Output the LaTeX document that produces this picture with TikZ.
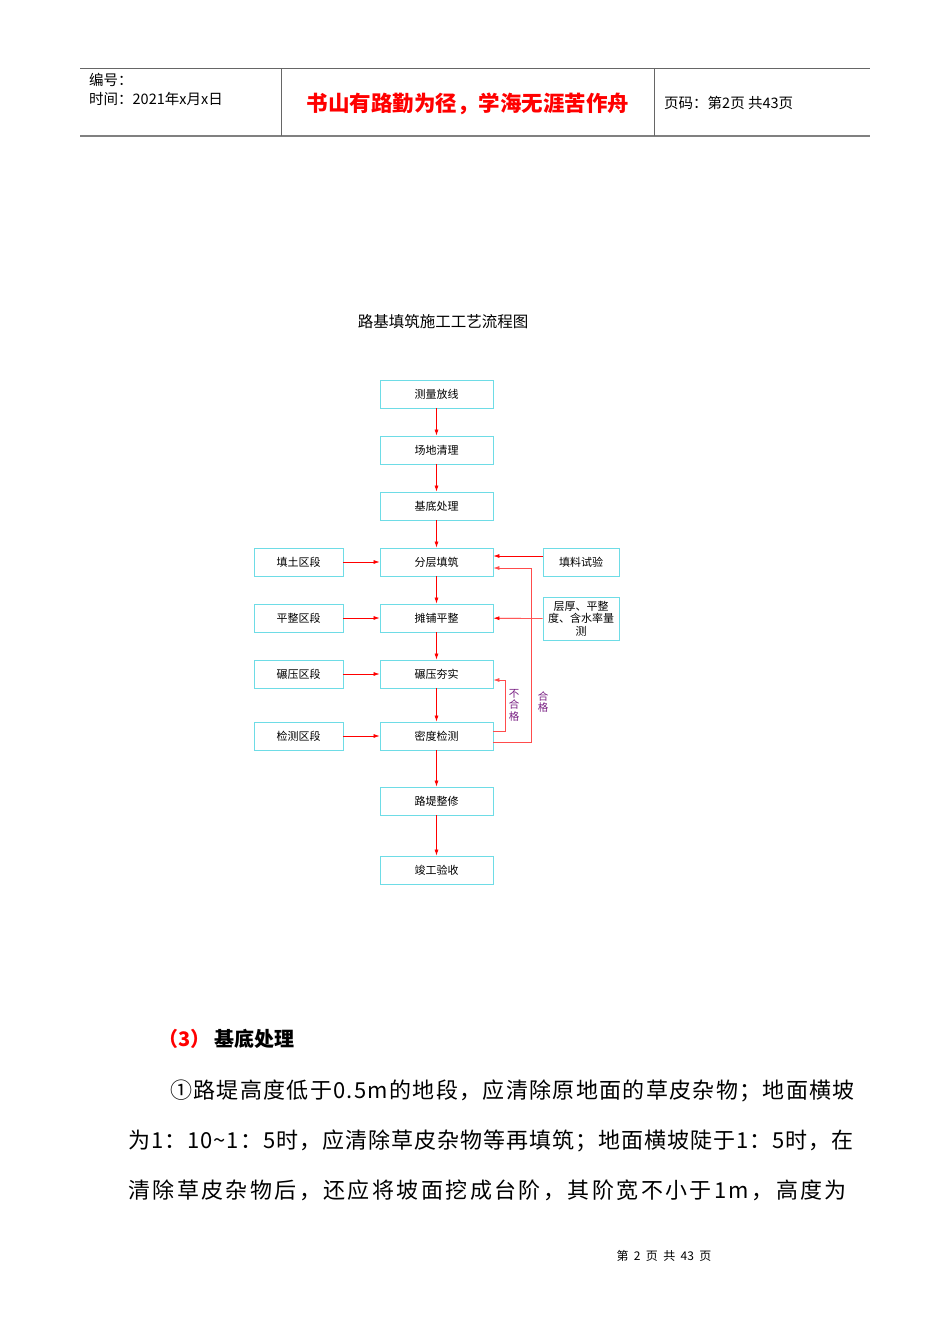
\documentclass[tikz,border=0pt]{standalone}
\usepackage{fontspec}
\setmainfont{Liberation Serif}
\newfontfamily\cjk{Noto Sans CJK SC}
\newfontfamily\cjka[LetterSpace=6]{Noto Sans CJK SC}
\newfontfamily\cjkb[LetterSpace=4.5]{Noto Sans CJK SC}
\newfontfamily\cjkc[LetterSpace=11]{Noto Sans CJK SC}
\usetikzlibrary{arrows.meta}
\definecolor{boxc}{RGB}{110,220,230}
\definecolor{lab}{RGB}{120,30,130}
\tikzset{
 x=1pt,y=-1pt,
 box/.style={draw=boxc,line width=0.9pt,minimum width=113pt,minimum height=28pt,inner sep=1pt,font=\cjk\fontsize{11}{12}\selectfont},
 sbox/.style={box,minimum width=89pt},
 rbox/.style={box,minimum width=76pt,align=center,font=\cjk\fontsize{11}{12.5}\selectfont},
 arr/.style={draw=red,line width=0.6pt,-{Latex[length=6pt,width=4pt]}},
 vlab/.style={text=lab,font=\cjk\fontsize{10.5}{11.5}\selectfont,align=center,inner sep=0pt},
 body/.style={anchor=west,inner sep=0pt},
}
\begin{document}
\begin{tikzpicture}
\useasboundingbox (0,0) rectangle (950,1344);
% header
\draw[line width=0.8pt,gray!80!black] (80,68) -- (870,68);
\draw[line width=1.5pt,gray] (80,136) -- (870,136);
\draw[gray!80!black] (281,68) -- (281,136) (654,68) -- (654,136);
\node[anchor=west,font=\cjk\fontsize{14.5}{19}\selectfont,align=left,inner sep=0pt] (h1) at (89,89) {编号：\\时间：2021年x月x日};
\node[text=red,font=\cjk\bfseries\fontsize{21.5}{24}\selectfont] (h2) at (468,104) {书山有路勤为径，学海无涯苦作舟};
\node[anchor=west,font=\cjk\fontsize{14.5}{16}\selectfont,inner sep=0pt] (h3) at (664,103) {页码：第2页\ 共43页};
% title
\node[font=\cjk\fontsize{15.5}{17}\selectfont] (title) at (443,322) {路基填筑施工工艺流程图};
% boxes
\node[box] (a) at (436.5,394) {测量放线};
\node[box] (b) at (436.5,450) {场地清理};
\node[box] (c) at (436.5,506) {基底处理};
\node[box] (d) at (436.5,562) {分层填筑};
\node[box] (e) at (436.5,618) {摊铺平整};
\node[box] (f) at (436.5,674) {碾压夯实};
\node[box] (g) at (436.5,736) {密度检测};
\node[box] (h) at (436.5,801) {路堤整修};
\node[box] (i) at (436.5,870) {竣工验收};
\node[sbox] (l1) at (298.5,562) {填土区段};
\node[sbox] (l2) at (298.5,618) {平整区段};
\node[sbox] (l3) at (298.5,674) {碾压区段};
\node[sbox] (l4) at (298.5,736) {检测区段};
\node[rbox] (r1) at (581,562) {填料试验};
\node[rbox,minimum height=43pt] (r2) at (581,618.5) {层厚、平整\\度、含水率量\\测};
\foreach \p/\q in {a/b,b/c,c/d,d/e,e/f,f/g,g/h,h/i} \draw[arr] (\p) -- (\q);
\foreach \p/\q in {l1/d,l2/e,l3/f,l4/g} \draw[arr] (\p) -- (\q);
\draw[arr] (r1.west|-0,556) -- (d.east|-0,556);
\draw[arr] (r2) -- (e);
\coordinate (g1) at (493,731);
\coordinate (g2) at (493,742);
\draw[arr,draw=red!70] (g.east|-g1) -- (505,731) -- (505,680) -- (f.east|-0,680);
\draw[arr,draw=red!70] (g.east|-g2) -- (531,742) -- (531,568) -- (d.east|-0,568);
\node[vlab] (n1) at (514,705) {不\\合\\格};
\node[vlab] (n2) at (543,702) {合\\格};
% body
\node[anchor=west,font=\cjk\bfseries\fontsize{20}{22}\selectfont,inner sep=0pt] (s3) at (158,1039) {\textcolor{red}{（3）}\ 基底处理};
\node[body,font=\cjka\fontsize{22}{24}\selectfont] (t1) at (170,1091) {①路堤高度低于0.5m的地段，应清除原地面的草皮杂物；地面横坡};
\node[body,font=\cjkb\fontsize{22}{24}\selectfont] (t2) at (128,1141) {为1：10\textasciitilde1：5时，应清除草皮杂物等再填筑；地面横坡陡于1：5时，在};
\node[body,font=\cjkc\fontsize{22}{24}\selectfont] (t3) at (128,1190) {清除草皮杂物后，还应将坡面挖成台阶，其阶宽不小于1m，高度为};
\node[font=\cjk\fontsize{12}{13}\selectfont] (pg) at (664,1256) {第\ \ 2\ \ 页\ \ 共\ \ 43\ \ 页};
\end{tikzpicture}
\end{document}
